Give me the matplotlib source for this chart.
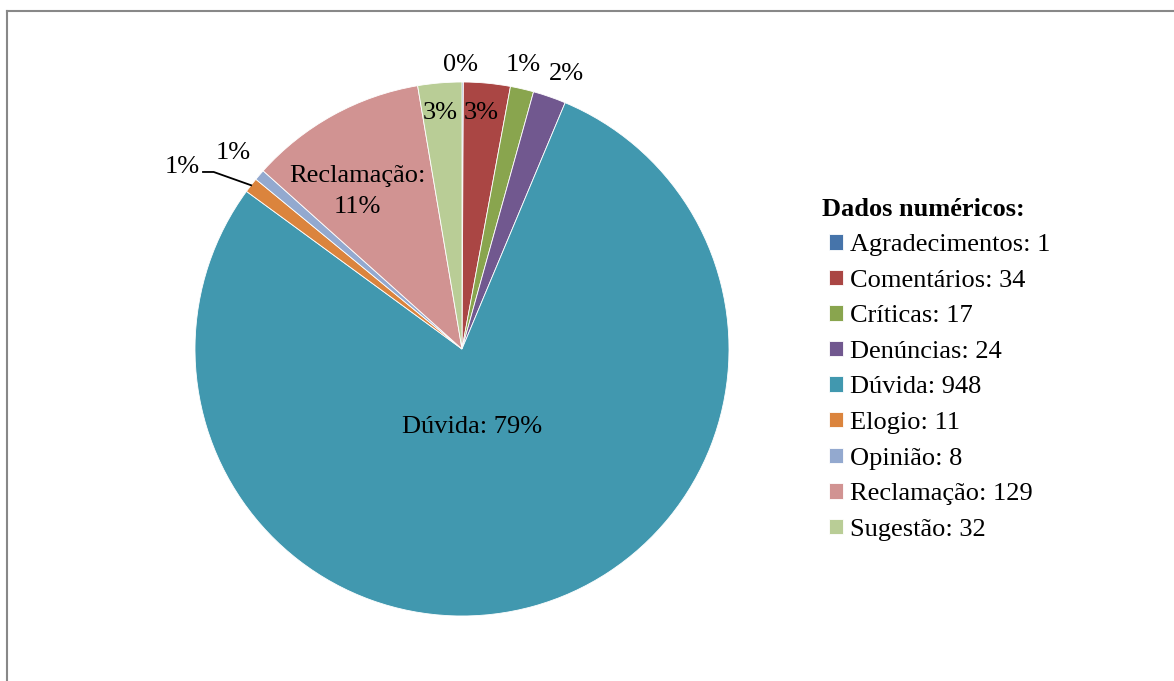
import matplotlib
matplotlib.use("Agg")
import matplotlib.pyplot as plt
from matplotlib.lines import Line2D
import numpy as np

categories = ["Agradecimentos", "Comentários", "Críticas", "Denúncias", "Dúvida",
              "Elogio", "Opinião", "Reclamação", "Sugestão"]
values = [1, 34, 17, 24, 948, 11, 8, 129, 32]
colors = ["#4674AA", "#AA4644", "#89A54E", "#71588F", "#4198AF",
          "#DB843D", "#93A9CF", "#D19392", "#B9CD96"]
slice_labels = ["0%", "3%", "1%", "2%", "Dúvida: 79%", "1%", "1%", "Reclamação:\n11%", "3%"]
label_pos = [(-0.007, 1.065), (0.07, 0.885), (0.228, 1.063), (0.39, 1.031), (0.036, -0.292),
             (-1.049, 0.683), (-0.858, 0.734), (-0.393, 0.59), (-0.082, 0.885)]
legend_title = "Dados numéricos:"

plt.rcParams['font.family'] = ['Liberation Serif', 'DejaVu Serif']

W, H = 1174, 681
fig = plt.figure(figsize=(W / 100, H / 100), dpi=100)

# chart border
fig.add_artist(Line2D([6.5 / W, 6.5 / W], [0, 1 - 10.5 / H], transform=fig.transFigure,
                      color="#888888", lw=1.5))
fig.add_artist(Line2D([6.5 / W, 1], [1 - 10.5 / H, 1 - 10.5 / H], transform=fig.transFigure,
                      color="#888888", lw=1.5))

cx, cy, r = 462, 349, 267
ax = fig.add_axes([(cx - r) / W, (H - cy - r) / H, 2 * r / W, 2 * r / H])
wedges, _ = ax.pie(values, colors=colors, startangle=90, counterclock=False, radius=1,
                   wedgeprops=dict(edgecolor="white", linewidth=0.6))
ax.set_xlim(-1, 1)
ax.set_ylim(-1, 1)
ax.set_aspect("equal")
ax.axis("off")

for lab, (x, y) in zip(slice_labels, label_pos):
    ax.text(x, y, lab, ha="center", va="center", fontsize=19, color="black",
            linespacing=1.55, clip_on=False)

# leader line for Elogio
tot = sum(values)
start = 90 - 360 * sum(values[:5]) / tot
mid = start - 360 * values[5] / tot / 2
ex, ey = np.cos(np.radians(mid)), np.sin(np.radians(mid))
ax.plot([-0.97, -0.93, ex], [0.663, 0.663, ey], color="black", lw=1.3, clip_on=False)

fig.text(822 / W, 1 - 210 / H, legend_title, fontsize=19, fontweight="bold",
         ha="left", va="center")

leg_labels = [f"{c}: {v}" for c, v in zip(categories, values)]
leg = fig.legend(wedges, leg_labels, loc="upper left",
                 bbox_to_anchor=(829 / W, 1 - 234 / H), frameon=False, fontsize=19,
                 handlelength=0.53, handleheight=0.53, handletextpad=0.27,
                 labelspacing=0.51, borderpad=0, borderaxespad=0)

fig.savefig("out.png", dpi=100)
